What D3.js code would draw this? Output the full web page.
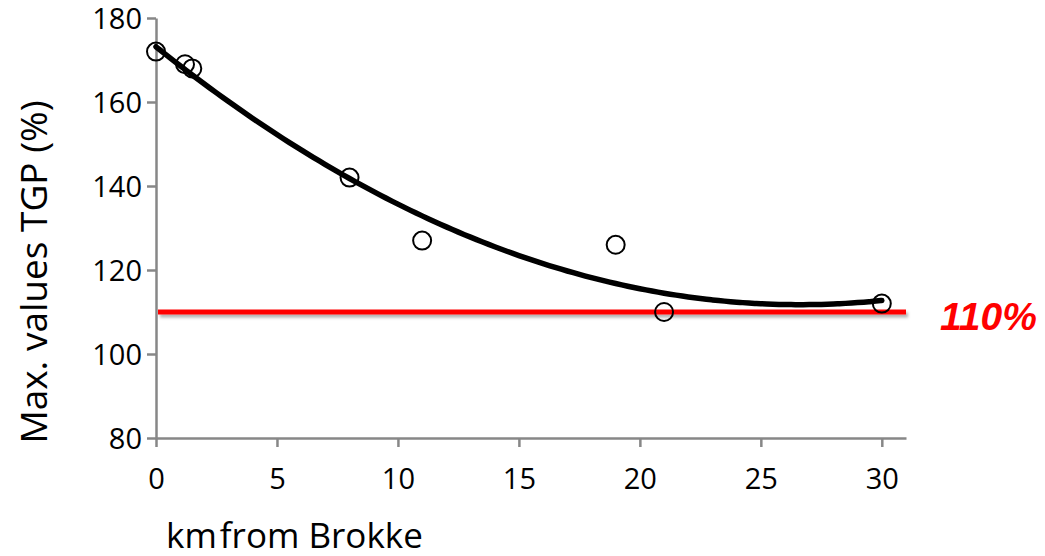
<!DOCTYPE html>
<html>
<head>
<meta charset="utf-8">
<script src="https://cdn.jsdelivr.net/npm/d3@7"></script>
<style>
  html, body { margin: 0; padding: 0; background: #fff; }
  svg { display: block; }
</style>
</head>
<body>
<svg id="chart" width="1045" height="556"></svg>
<script>
// Distance downstream (km) and maximum total gas pressure (%) at each station
const distanceKm = [0, 1.2, 1.5, 8, 11, 19, 21, 30];
const maxTGP = [172, 169, 168, 142, 127, 126, 110, 112];
const xTicks = [0, 5, 10, 15, 20, 25, 30];
const yTicks = [80, 100, 120, 140, 160, 180];
const limitValue = 110;
const limitLabel = "110%";

const svg = d3.select("#chart");
const font = "'Open Sans', 'DejaVu Sans', sans-serif";
const axisGrey = "#878787";

const x = d3.scaleLinear().domain([0, 31]).range([156, 906]);
const y = d3.scaleLinear().domain([80, 180]).range([438, 18]);

// Second-order least-squares trendline through the points
function quadFit(xs, ys) {
  const s = k => d3.sum(xs, v => Math.pow(v, k));
  const t = k => d3.sum(xs, (v, i) => Math.pow(v, k) * ys[i]);
  const A = [
    [s(0), s(1), s(2), t(0)],
    [s(1), s(2), s(3), t(1)],
    [s(2), s(3), s(4), t(2)]
  ];
  for (let i = 0; i < 3; i++) {
    for (let r = i + 1; r < 3; r++) {
      const f = A[r][i] / A[i][i];
      for (let c = i; c < 4; c++) A[r][c] -= f * A[i][c];
    }
  }
  const coef = [0, 0, 0];
  for (let i = 2; i >= 0; i--) {
    let v = A[i][3];
    for (let c = i + 1; c < 3; c++) v -= A[i][c] * coef[c];
    coef[i] = v / A[i][i];
  }
  return coef;
}
const [c0, c1, c2] = quadFit(distanceKm, maxTGP);
const trend = d3.range(0, 30.0001, 0.25).map(d => [d, c0 + c1 * d + c2 * d * d]);

// Drop shadow for the limit line (user-space region so a flat line still renders)
const defs = svg.append("defs");
defs.append("filter").attr("id", "shadow")
  .attr("filterUnits", "userSpaceOnUse")
  .attr("x", 0).attr("y", 0).attr("width", 1045).attr("height", 556)
  .append("feDropShadow")
  .attr("dx", 2).attr("dy", 3).attr("stdDeviation", 1.5)
  .attr("flood-color", "#000").attr("flood-opacity", 0.3);

// Axes
const xAxis = svg.append("g")
  .attr("transform", `translate(0,${y(80)})`)
  .call(d3.axisBottom(x).tickValues(xTicks).tickSize(9).tickSizeOuter(0).tickPadding(21));
const yAxis = svg.append("g")
  .attr("transform", `translate(${x(0)},0)`)
  .call(d3.axisLeft(y).tickValues(yTicks).tickSize(9).tickSizeOuter(0).tickPadding(5));

[xAxis, yAxis].forEach(g => {
  g.select(".domain").attr("stroke", axisGrey).attr("stroke-width", 2.5);
  g.selectAll(".tick line").attr("stroke", axisGrey).attr("stroke-width", 2.5);
  g.selectAll(".tick text")
    .attr("fill", "#000")
    .style("font-family", font)
    .style("font-size", "29px");
});
yAxis.selectAll(".tick text").attr("dy", "0.36em");
xAxis.selectAll(".tick text").attr("dy", "0.71em");

// Axis titles
const xTitle = svg.append("text")
  .attr("x", 166).attr("y", 548)
  .style("font-family", font).style("font-size", "35px")
  .attr("fill", "#000");
xTitle.append("tspan").text("km");
xTitle.append("tspan").attr("dx", 3).text("from Brokke");

svg.append("text")
  .attr("transform", `translate(47,${(y(80) + y(180)) / 2 + 44}) rotate(-90)`)
  .attr("text-anchor", "middle")
  .style("font-family", font).style("font-size", "37px")
  .attr("fill", "#000")
  .text("Max. values TGP (%)");

// Limit line at 110 %
svg.append("line")
  .attr("x1", x(0) + 2).attr("x2", x(31))
  .attr("y1", y(limitValue)).attr("y2", y(limitValue))
  .attr("stroke", "#ff0000").attr("stroke-width", 5)
  .attr("filter", "url(#shadow)");

svg.append("text")
  .attr("x", x(31) + 34).attr("y", y(limitValue) + 8)
  .attr("dominant-baseline", "middle")
  .style("font-family", "'Liberation Sans', Arial, sans-serif")
  .style("font-size", "39px").style("font-weight", "bold").style("font-style", "italic")
  .attr("fill", "#ff0000")
  .text(limitLabel);

// Measured points
svg.append("g").selectAll("circle")
  .data(distanceKm.map((d, i) => [d, maxTGP[i]]))
  .join("circle")
  .attr("cx", d => x(d[0])).attr("cy", d => y(d[1]))
  .attr("r", 9)
  .attr("fill", "none").attr("stroke", "#000").attr("stroke-width", 2);

// Trendline
svg.append("path")
  .datum(trend)
  .attr("d", d3.line().x(d => x(d[0])).y(d => y(d[1])).curve(d3.curveBasis))
  .attr("fill", "none").attr("stroke", "#000")
  .attr("stroke-width", 5.5).attr("stroke-linecap", "round");
</script>
</body>
</html>
